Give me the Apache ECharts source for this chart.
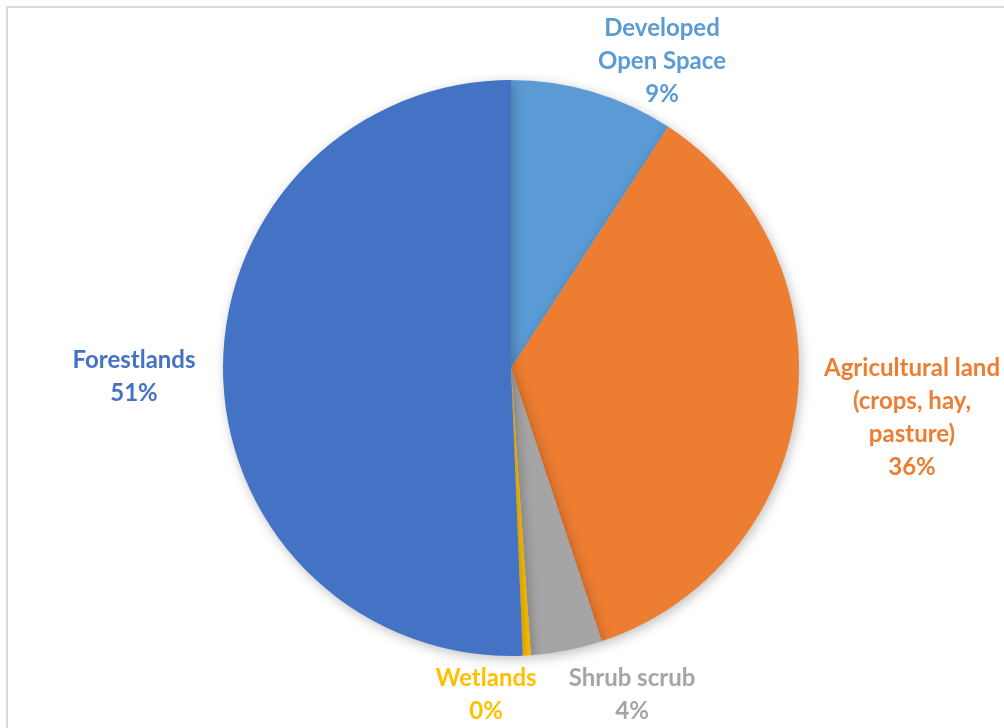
<!DOCTYPE html>
<html>
<head>
<meta charset="utf-8">
<script src="https://cdn.jsdelivr.net/npm/echarts@6/dist/echarts.min.js"></script>
<style>html,body{margin:0;padding:0;background:#fff;}#chart{width:1004px;height:728px;}</style>
</head>
<body>
<div id="chart"></div>
<script>
const categories = ["Developed\nOpen Space", "Agricultural land\n(crops, hay,\npasture)", "Shrub scrub", "Wetlands", "Forestlands"];
const values = [9.2, 35.7, 4.0, 0.45, 50.65];
const colors = ["#5B9BD5", "#ED7D31", "#A5A5A5", "#FFC000", "#4472C4"];
const labelPos = [[662, 61], [912, 418], [632, 695], [486, 695], [134, 377]];

const chart = echarts.init(document.getElementById('chart'));
const total = values.reduce((a, b) => a + b, 0);
chart.setOption({
  animation: false,
  backgroundColor: '#ffffff',
  graphic: [{
    type: 'rect', silent: true,
    shape: { x: 7, y: 7, width: 1200, height: 1000 },
    style: { fill: 'none', stroke: '#d9d9d9', lineWidth: 2 }
  }],
  series: [{
    type: 'pie',
    center: [511, 368],
    radius: [0, 288],
    startAngle: 90,
    clockwise: true,
    avoidLabelOverlap: false,
    data: categories.map((c, i) => ({
      name: c, value: values[i],
      itemStyle: { color: colors[i] },
      label: { color: colors[i] }
    })),
    itemStyle: {
      borderWidth: 0,
      shadowBlur: 12, shadowColor: 'rgba(0,0,0,0.25)', shadowOffsetX: 2, shadowOffsetY: 3
    },
    label: {
      show: true,
      position: 'outside',
      formatter: p => p.name + '\n' + Math.round(p.value / total * 100) + '%',
      fontFamily: 'Lato',
      fontWeight: 'bold',
      fontSize: 24,
      lineHeight: 33,
      align: 'center'
    },
    labelLine: { show: false },
    labelLayout: p => ({
      x: labelPos[p.dataIndex][0], y: labelPos[p.dataIndex][1],
      align: 'center', verticalAlign: 'middle', hideOverlap: false
    })
  }]
});
</script>
</body>
</html>
